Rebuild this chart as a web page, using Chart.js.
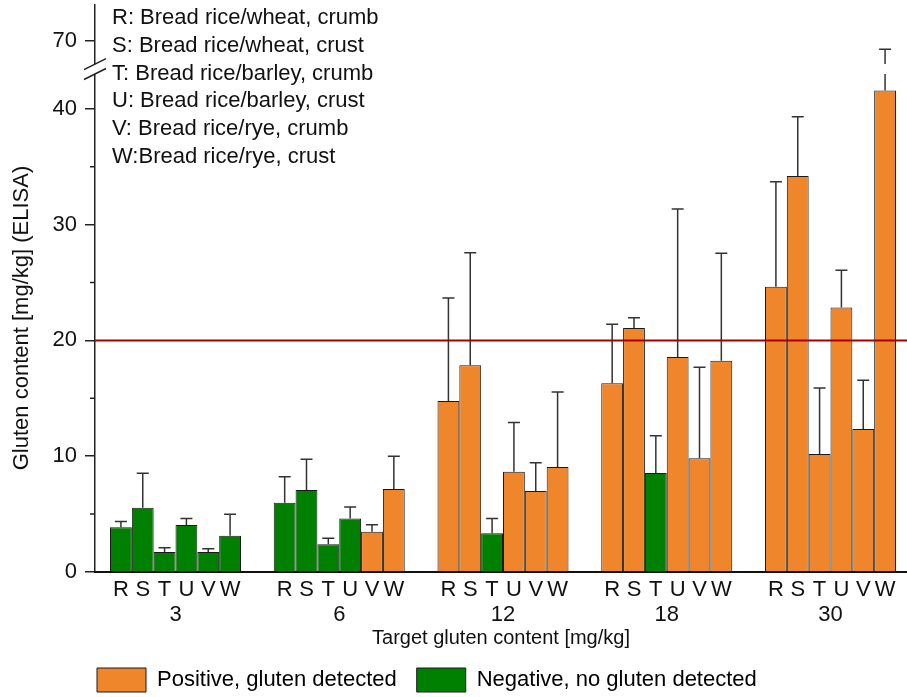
<!DOCTYPE html>
<html>
<head>
<meta charset="utf-8">
<script src="https://cdn.jsdelivr.net/npm/chart.js@4.4.0/dist/chart.umd.min.js"></script>
<style>
  body { margin: 0; background: #fff; }
</style>
</head>
<body>
<canvas id="glutenChart" width="907" height="697"></canvas>
<script>
const groups = ['3', '6', '12', '18', '30'];
const samples = ['R', 'S', 'T', 'U', 'V', 'W'];
const sampleNames = [
  'R: Bread rice/wheat, crumb',
  'S: Bread rice/wheat, crust',
  'T: Bread rice/barley, crumb',
  'U: Bread rice/barley, crust',
  'V: Bread rice/rye, crumb',
  'W:Bread rice/rye, crust'
];

// mean gluten content [mg/kg], one value per target group
const meanR = [3.86, 5.99, 14.77, 16.29, 24.64];
const meanS = [5.55, 7.08, 17.85, 21.07, 34.2];
const meanT = [1.73, 2.39, 3.34, 8.55, 10.19];
const meanU = [4.06, 4.61, 8.66, 18.57, 22.83];
const meanV = [1.73, 3.48, 6.99, 9.82, 12.35];
const meanW = [3.14, 7.17, 9.07, 18.25, 41.57];

// standard deviation (upper error bar)
const sdR = [0.49, 2.24, 8.89, 5.10, 9.06];
const sdS = [2.97, 2.65, 9.72, 0.89, 5.1];
const sdT = [0.37, 0.52, 1.27, 3.22, 5.70];
const sdU = [0.57, 1.00, 4.26, 12.78, 3.22];
const sdV = [0.28, 0.61, 2.45, 7.86, 4.20];
const sdW = [1.84, 2.82, 6.47, 9.27, 27.7];

// 1 = positive (gluten detected), 0 = negative
const posR = [0, 0, 1, 1, 1];
const posS = [0, 0, 1, 1, 1];
const posT = [0, 0, 0, 0, 1];
const posU = [0, 0, 1, 1, 1];
const posV = [0, 1, 1, 1, 1];
const posW = [0, 1, 1, 1, 1];

const yTicks = [0, 10, 20, 30, 40, 70];
const yMinorTicks = [5, 15, 25, 35];
const threshold = 20;

const means = [meanR, meanS, meanT, meanU, meanV, meanW];
const sds = [sdR, sdS, sdT, sdU, sdV, sdW];
const pos = [posR, posS, posT, posU, posV, posW];

const ORANGE = '#f0862c';
const GREEN = '#008000';
const EDGE = '#1a1a1a';
const FONT = { family: "'Liberation Sans', Arial, sans-serif", size: 22 };

// axis break: values between BREAK_LOW and BREAK_HIGH are cut out
const BREAK_LOW = 43;
const BREAK_HIGH = 68;
const BREAK_GAP = 0.86;
function toAxis(v) {
  return v <= BREAK_LOW ? v : v - (BREAK_HIGH - BREAK_LOW - BREAK_GAP);
}

Chart.defaults.font.family = FONT.family;
Chart.defaults.font.size = FONT.size;
Chart.defaults.color = '#111';

const datasets = samples.map((s, k) => ({
  label: s,
  data: means[k].map((v, i) => ({ x: i, y: toAxis(v) })),
  backgroundColor: pos[k].map(p => p ? ORANGE : GREEN),
  borderColor: EDGE,
  borderWidth: 1,
  barPercentage: 1,
  categoryPercentage: 0.8,
  xAxisID: 'x',
  yAxisID: 'y'
}));

const errorBars = {
  id: 'errorBars',
  afterDatasetsDraw(chart) {
    const ctx = chart.ctx;
    const y = chart.scales.y;
    ctx.save();
    ctx.strokeStyle = '#333';
    ctx.lineWidth = 1.5;
    chart.data.datasets.forEach((ds, k) => {
      chart.getDatasetMeta(k).data.forEach((bar, i) => {
        const top = means[k][i] + sds[k][i];
        const x = bar.x;
        const yTop = y.getPixelForValue(toAxis(top));
        ctx.beginPath();
        ctx.moveTo(x, bar.y);
        if (top > BREAK_LOW) {
          ctx.lineTo(x, y.getPixelForValue(BREAK_LOW));
          ctx.moveTo(x, y.getPixelForValue(toAxis(BREAK_HIGH)));
        }
        ctx.lineTo(x, yTop);
        ctx.moveTo(x - 6, yTop);
        ctx.lineTo(x + 6, yTop);
        ctx.stroke();
      });
    });

    // detection threshold
    const area = chart.chartArea;
    const yt = y.getPixelForValue(threshold);
    ctx.strokeStyle = '#a80000';
    ctx.lineWidth = 2;
    ctx.beginPath();
    ctx.moveTo(area.left, yt);
    ctx.lineTo(area.right, yt);
    ctx.stroke();
    ctx.restore();
  }
};

const decorations = {
  id: 'decorations',
  afterLayout(chart) {
    // legend starts under the y axis line, not after its padding
    chart.legend.left -= 18;
    chart.legend.right -= 18;
  },
  afterDraw(chart) {
    const ctx = chart.ctx;
    const y = chart.scales.y;
    const left = chart.chartArea.left;
    ctx.save();

    // minor ticks
    ctx.strokeStyle = '#222';
    ctx.lineWidth = 1.5;
    ctx.beginPath();
    yMinorTicks.forEach(v => {
      const p = y.getPixelForValue(v);
      ctx.moveTo(left - 5, p);
      ctx.lineTo(left, p);
    });
    ctx.stroke();

    // break marks
    const gTop = y.getPixelForValue(toAxis(BREAK_HIGH));
    const gBot = y.getPixelForValue(BREAK_LOW);
    ctx.fillStyle = '#fff';
    ctx.fillRect(left - 3, gTop, 6, gBot - gTop);
    ctx.beginPath();
    [gTop, gBot].forEach(p => {
      ctx.moveTo(left - 11, p + 5.5);
      ctx.lineTo(left + 11, p - 5.5);
    });
    ctx.stroke();

    // y title
    ctx.fillStyle = '#111';
    ctx.font = FONT.size + 'px ' + FONT.family;
    ctx.textAlign = 'center';
    ctx.textBaseline = 'middle';
    ctx.translate(22, 318);
    ctx.rotate(-Math.PI / 2);
    ctx.fillText('Gluten content [mg/kg] (ELISA)', 0, 0);
    ctx.setTransform(1, 0, 0, 1, 0, 0);

    // sample key
    ctx.textAlign = 'left';
    sampleNames.forEach((t, i) => {
      ctx.fillText(t, 112, 18 + i * 27.8);
    });
    ctx.restore();
  }
};

function noPadding(s) {
  s.paddingTop = 0;
  s.paddingBottom = 0;
  s.paddingLeft = 0;
  s.paddingRight = 0;
}

new Chart(document.getElementById('glutenChart'), {
  type: 'bar',
  data: { datasets },
  options: {
    responsive: false,
    animation: false,
    layout: { padding: { top: 5, left: 0, right: 0, bottom: -5 } },
    scales: {
      y: {
        min: 0,
        max: 48.96,
        afterBuildTicks: s => { s.ticks = yTicks.map(v => ({ value: toAxis(v) })); },
        afterFit: s => { s.width = 95; noPadding(s); },
        ticks: { padding: 8, callback: (v, i) => String(yTicks[i]) },
        grid: { drawOnChartArea: false, drawTicks: true, tickLength: 10, color: '#222', lineWidth: 1.5 },
        border: { color: '#222', width: 1.5 }
      },
      xl: {
        type: 'linear',
        position: 'bottom',
        weight: 0,
        offset: false,
        min: -0.4916,
        max: 4.4672,
        afterBuildTicks: s => {
          const t = [];
          groups.forEach((g, i) => samples.forEach((l, k) => t.push({ value: i + (k - 2.5) * 0.8 / samples.length })));
          s.ticks = t;
        },
        afterFit: s => { s.height = 30; noPadding(s); },
        ticks: { autoSkip: false, maxRotation: 0, padding: 5, callback: (v, i) => samples[i % samples.length] },
        grid: { display: false, drawTicks: false, offset: false },
        border: { display: true, color: '#111', width: 2 }
      },
      x: {
        type: 'linear',
        position: 'bottom',
        weight: 1,
        offset: false,
        min: -0.4916,
        max: 4.4672,
        afterBuildTicks: s => { s.ticks = groups.map((g, i) => ({ value: i })); },
        afterFit: s => { s.height = 46; noPadding(s); },
        ticks: { autoSkip: false, maxRotation: 0, padding: 0, callback: (v, i) => groups[i] },
        grid: { display: false, drawTicks: false, offset: false },
        border: { display: false },
        title: {
          display: true,
          text: 'Target gluten content [mg/kg]',
          font: { size: 20 },
          padding: { top: 0, bottom: -2 }
        }
      }
    },
    plugins: {
      tooltip: { enabled: false },
      legend: {
        position: 'bottom',
        align: 'start',
        fullSize: false,
        onClick: null,
        labels: {
          boxWidth: 49,
          boxHeight: 24,
          padding: 20,
          font: { size: 22 },
          generateLabels: () => [
            { text: 'Positive, gluten detected', fillStyle: ORANGE, strokeStyle: EDGE, lineWidth: 1, hidden: false },
            { text: 'Negative, no gluten detected', fillStyle: GREEN, strokeStyle: EDGE, lineWidth: 1, hidden: false }
          ]
        }
      }
    }
  },
  plugins: [errorBars, decorations]
});
</script>
</body>
</html>
